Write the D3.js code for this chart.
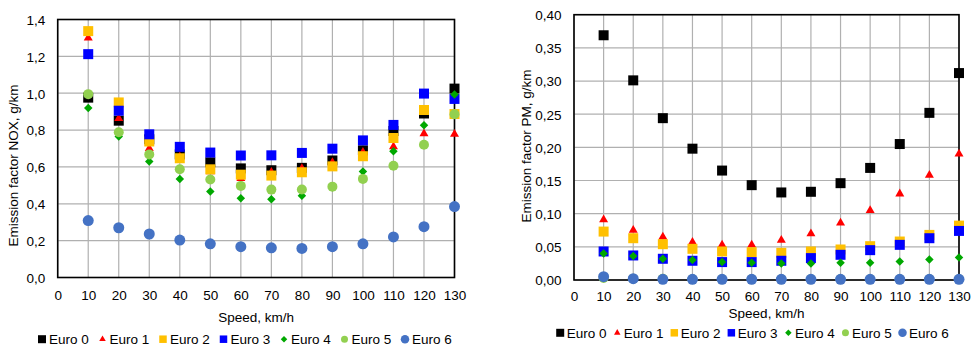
<!DOCTYPE html>
<html>
<head>
<meta charset="utf-8">
<script src="https://cdn.jsdelivr.net/npm/d3@7"></script>
<style>
  html, body { margin: 0; padding: 0; background: #fff; }
  svg { display: block; font-family: "Liberation Sans", Arial, sans-serif; }
</style>
</head>
<body>
<svg id="chart" width="977" height="347"></svg>
<script>
// ---------- data ----------
const speeds = [10, 20, 30, 40, 50, 60, 70, 80, 90, 100, 110, 120, 130];
const seriesNames = ["Euro 0", "Euro 1", "Euro 2", "Euro 3", "Euro 4", "Euro 5", "Euro 6"];

const noxEuro0 = [0.976, 0.851, 0.750, 0.668, 0.625, 0.592, 0.582, 0.595, 0.635, 0.690, 0.795, 0.890, 1.025];
const noxEuro1 = [1.300, 0.863, 0.700, 0.655, 0.575, 0.538, 0.572, 0.592, 0.625, 0.680, 0.710, 0.780, 0.778];
const noxEuro2 = [1.337, 0.950, 0.738, 0.647, 0.587, 0.558, 0.553, 0.571, 0.603, 0.658, 0.757, 0.909, 0.887];
const noxEuro3 = [1.212, 0.905, 0.777, 0.709, 0.678, 0.662, 0.663, 0.676, 0.699, 0.744, 0.828, 0.998, 0.969];
const noxEuro4 = [0.920, 0.765, 0.630, 0.535, 0.466, 0.430, 0.425, 0.443, 0.490, 0.575, 0.685, 0.826, 0.993];
const noxEuro5 = [0.995, 0.788, 0.668, 0.587, 0.532, 0.497, 0.477, 0.478, 0.493, 0.535, 0.606, 0.720, 0.886];
const noxEuro6 = [0.309, 0.270, 0.236, 0.203, 0.183, 0.167, 0.161, 0.158, 0.167, 0.183, 0.220, 0.276, 0.385];

const pmEuro0 = [0.369, 0.301, 0.244, 0.198, 0.165, 0.143, 0.132, 0.133, 0.146, 0.169, 0.205, 0.252, 0.312];
const pmEuro1 = [0.091, 0.075, 0.065, 0.057, 0.053, 0.053, 0.060, 0.070, 0.086, 0.105, 0.130, 0.158, 0.190];
const pmEuro2 = [0.073, 0.063, 0.054, 0.047, 0.043, 0.042, 0.041, 0.043, 0.046, 0.051, 0.058, 0.068, 0.082];
const pmEuro3 = [0.043, 0.037, 0.032, 0.029, 0.027, 0.027, 0.029, 0.033, 0.038, 0.045, 0.053, 0.063, 0.074];
const pmEuro4 = [0.040, 0.036, 0.032, 0.030, 0.027, 0.026, 0.025, 0.025, 0.026, 0.026, 0.028, 0.031, 0.034];
const pmEuro5 = [0.003, 0.002, 0.002, 0.001, 0.001, 0.001, 0.001, 0.001, 0.001, 0.001, 0.001, 0.001, 0.001];
const pmEuro6 = [0.005, 0.002, 0.001, 0.001, 0.001, 0.001, 0.001, 0.001, 0.001, 0.001, 0.001, 0.001, 0.001];

const xTicks = [0, 10, 20, 30, 40, 50, 60, 70, 80, 90, 100, 110, 120, 130];
const noxTicks = [0, 0.2, 0.4, 0.6, 0.8, 1.0, 1.2, 1.4];
const pmTicks = [0, 0.05, 0.10, 0.15, 0.20, 0.25, 0.30, 0.35, 0.40];

// ---------- styles ----------
const colors = ["#000000", "#ff0000", "#ffc000", "#0000ff", "#00a800", "#92d050", "#4472c4"];
const shapes = ["square", "triangle", "square", "square", "diamond", "circle", "circle"];
const markerSize = [10, 9, 10, 10, 8.5, 10, 11];
const legendSize = [8, 6.5, 7.5, 7.5, 6.5, 7, 8.5];

const svg = d3.select("#chart");
const FONT = 13.5;

function symbolPath(shape, w) {
  if (shape === "square") return d3.symbol(d3.symbolSquare, w * w)();
  if (shape === "circle") return d3.symbol(d3.symbolCircle, Math.PI * w * w / 4)();
  if (shape === "triangle") return d3.symbol(d3.symbolTriangle, Math.sqrt(3) / 4 * w * w)();
  if (shape === "diamond") { const s = w / Math.SQRT2; return d3.symbol(d3.symbolSquare, s * s)(); }
}
function symbolTransform(shape, x, y) {
  return shape === "diamond" ? `translate(${x},${y}) rotate(45)` : `translate(${x},${y})`;
}

function drawPanel(cfg) {
  const x = d3.scaleLinear().domain([0, 130]).range([cfg.left, cfg.right]);
  const y = d3.scaleLinear().domain([0, cfg.yMax]).range([cfg.bottom, cfg.top]);
  const g = svg.append("g");

  // gridlines
  g.append("g").selectAll("line").data(xTicks).join("line")
    .attr("x1", d => x(d)).attr("x2", d => x(d))
    .attr("y1", cfg.top).attr("y2", cfg.bottom)
    .attr("stroke", "#b0b0b0").attr("stroke-width", 1.2);
  g.append("g").selectAll("line").data(cfg.yTicks).join("line")
    .attr("x1", cfg.left).attr("x2", cfg.right)
    .attr("y1", d => y(d)).attr("y2", d => y(d))
    .attr("stroke", "#b0b0b0").attr("stroke-width", 1.2);

  // frame
  g.append("rect").attr("x", cfg.left).attr("y", cfg.top)
    .attr("width", cfg.right - cfg.left).attr("height", cfg.bottom - cfg.top)
    .attr("fill", "none").attr("stroke", "#000").attr("stroke-width", 1.6);

  // axes (labels only)
  const xAxis = d3.axisBottom(x).tickValues(xTicks).tickSize(0).tickPadding(0).tickFormat(d3.format("d"));
  const xa = g.append("g").attr("transform", `translate(0,${cfg.bottom})`).call(xAxis);
  xa.select(".domain").remove();
  xa.selectAll("text").attr("y", cfg.xLabelDy).attr("dy", null)
    .attr("font-size", FONT).attr("font-family", null).attr("fill", "#000");

  const yAxis = d3.axisLeft(y).tickValues(cfg.yTicks).tickSize(0).tickPadding(12.5)
    .tickFormat(d => d3.format(cfg.yFmt)(d).replace(".", ","));
  const ya = g.append("g").attr("transform", `translate(${cfg.left},0)`).call(yAxis);
  ya.select(".domain").remove();
  ya.selectAll("text").attr("dy", "0.36em")
    .attr("font-size", FONT).attr("font-family", null).attr("fill", "#000");

  // axis titles
  g.append("text").attr("x", (cfg.left + cfg.right) / 2).attr("y", cfg.xTitleY)
    .attr("text-anchor", "middle").attr("font-size", FONT).text("Speed, km/h");
  g.append("text").attr("transform", `translate(${cfg.yTitleX},${cfg.yTitleCY}) rotate(-90)`)
    .attr("text-anchor", "middle").attr("font-size", FONT).text(cfg.yTitle);

  // series markers
  cfg.series.forEach((vals, si) => {
    g.append("g").selectAll("path").data(vals.map((v, i) => [speeds[i], v])).join("path")
      .attr("d", symbolPath(shapes[si], markerSize[si]))
      .attr("transform", d => symbolTransform(shapes[si], x(d[0]), y(d[1])))
      .attr("fill", colors[si]);
  });

  // legend
  const lg = g.append("g");
  seriesNames.forEach((name, i) => {
    const tx = cfg.legendX0 + i * cfg.legendPitch;
    lg.append("path").attr("d", symbolPath(shapes[i], legendSize[i]))
      .attr("transform", symbolTransform(shapes[i], tx - cfg.legendGap, cfg.legendY - 4.8))
      .attr("fill", colors[i]);
    lg.append("text").attr("x", tx).attr("y", cfg.legendY)
      .attr("font-size", FONT).text(name);
  });
}

drawPanel({
  left: 57.7, right: 454.5, top: 19.5, bottom: 277.5, yMax: 1.4,
  yTicks: noxTicks, yFmt: ".1f",
  series: [noxEuro0, noxEuro1, noxEuro2, noxEuro3, noxEuro4, noxEuro5, noxEuro6],
  xLabelDy: 22.3, xTitleY: 321.5, yTitleX: 18.3, yTitleCY: 165.5,
  yTitle: "Emission factor NOX, g/km",
  legendX0: 49, legendPitch: 60.5, legendGap: 7, legendY: 344
});

drawPanel({
  left: 574, right: 959, top: 14.7, bottom: 280, yMax: 0.4,
  yTicks: pmTicks, yFmt: ".2f",
  series: [pmEuro0, pmEuro1, pmEuro2, pmEuro3, pmEuro4, pmEuro5, pmEuro6],
  xLabelDy: 20.8, xTitleY: 318, yTitleX: 530.5, yTitleCY: 146,
  yTitle: "Emission factor PM, g/km",
  legendX0: 566.7, legendPitch: 57.05, legendGap: 6.5, legendY: 337.6
});
</script>
</body>
</html>
